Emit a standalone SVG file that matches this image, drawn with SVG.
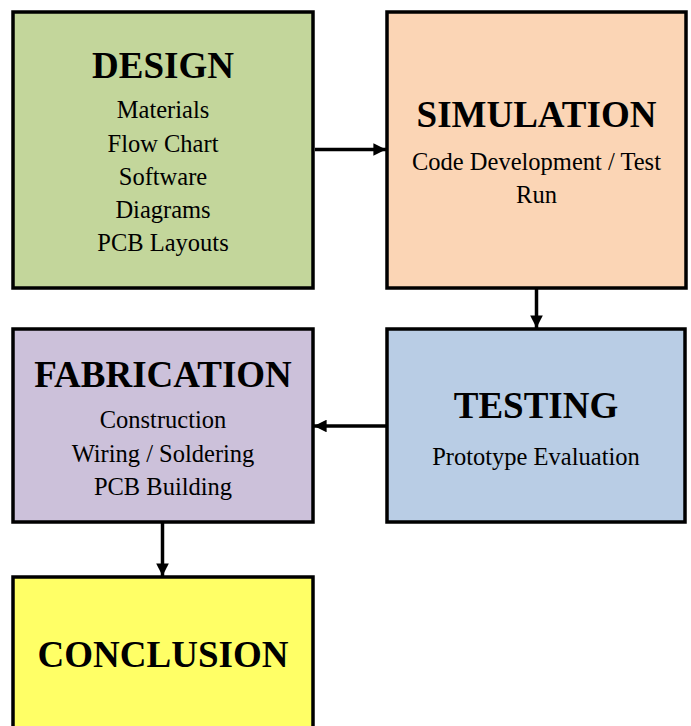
<svg xmlns="http://www.w3.org/2000/svg" width="691" height="726" viewBox="0 0 691 726">
<style>
.box{stroke:#000;stroke-width:3.5}
.t{font-family:"Liberation Serif","Times New Roman",serif;font-weight:bold;font-size:37px;text-anchor:middle;fill:#000}
.b{font-family:"Liberation Serif","Times New Roman",serif;font-size:24.5px;text-anchor:middle;fill:#000}
.c{stroke:#000;stroke-width:3.5;fill:none}
</style>
<defs>
<marker id="ah" viewBox="0 0 10 10" refX="10" refY="5" markerWidth="3.6" markerHeight="3.6" orient="auto" markerUnits="strokeWidth">
<path d="M0,0 L10,5 L0,10 Z" fill="#000"/>
</marker>
</defs>
<rect width="691" height="726" fill="#fff"/>
<g id="connectors">
<line class="c" x1="315" y1="149.5" x2="386" y2="149.5" marker-end="url(#ah)"/>
<line class="c" x1="536.5" y1="289" x2="536.5" y2="328" marker-end="url(#ah)"/>
<line class="c" x1="386" y1="426" x2="314" y2="426" marker-end="url(#ah)"/>
<line class="c" x1="162.5" y1="523" x2="162.5" y2="576" marker-end="url(#ah)"/>
</g>
<g id="design">
<rect class="box" x="13" y="12" width="300" height="276" fill="#c3d69b"/>
<text class="t" x="163" y="78">DESIGN</text>
<text class="b" x="163" y="118">Materials</text>
<text class="b" x="163" y="152">Flow Chart</text>
<text class="b" x="163" y="185">Software</text>
<text class="b" x="163" y="218">Diagrams</text>
<text class="b" x="163" y="251">PCB Layouts</text>
</g>
<g id="simulation">
<rect class="box" x="387" y="12" width="299" height="276" fill="#fbd5b5"/>
<text class="t" x="536.5" y="127">SIMULATION</text>
<text class="b" x="536.5" y="170">Code Development / Test</text>
<text class="b" x="536.5" y="203">Run</text>
</g>
<g id="testing">
<rect class="box" x="387" y="329" width="298" height="193" fill="#b9cde5"/>
<text class="t" x="536" y="418">TESTING</text>
<text class="b" x="536" y="465">Prototype Evaluation</text>
</g>
<g id="fabrication">
<rect class="box" x="13" y="329" width="300" height="193" fill="#ccc1da"/>
<text class="t" x="163" y="387">FABRICATION</text>
<text class="b" x="163" y="428">Construction</text>
<text class="b" x="163" y="462">Wiring / Soldering</text>
<text class="b" x="163" y="495">PCB Building</text>
</g>
<g id="conclusion">
<rect class="box" x="13" y="577" width="300" height="170" fill="#ffff66"/>
<text class="t" x="163" y="667">CONCLUSION</text>
</g>
</svg>
